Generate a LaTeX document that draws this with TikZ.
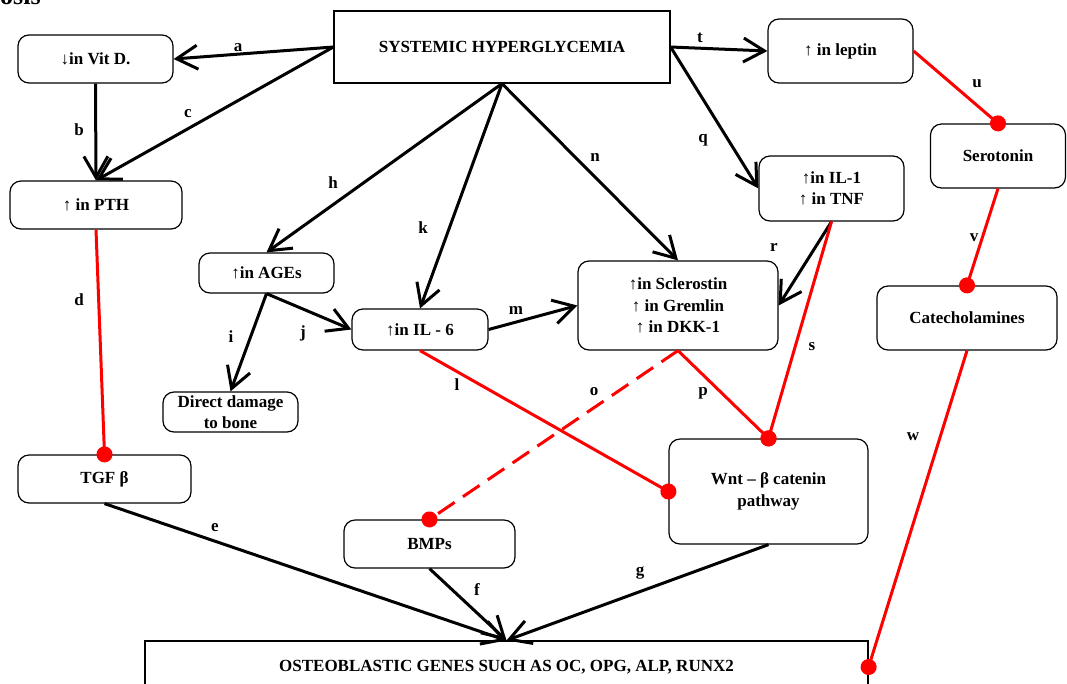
\documentclass[tikz,border=0pt]{standalone}
\usepackage{fontspec}
\setmainfont{Liberation Serif}
\usetikzlibrary{arrows.meta}

\newcommand{\diagfont}{\fontsize{17}{21.5}\selectfont\bfseries}

\tikzset{
  cell/.style={draw, line width=1.2pt, rounded corners=11pt, align=center, inner sep=0pt, font=\diagfont},
  flat/.style={draw, line width=1.2pt, align=center, inner sep=0pt, font=\diagfont},
  dims/.style 2 args={minimum width=#1pt, minimum height=#2pt},
  up/.style={line width=3pt, -{Straight Barb[length=21pt, width=24pt]}},
  block/.style={red, line width=3pt, shorten >=-8pt, -{Circle[length=16pt]}},
  tag/.style={font=\diagfont, inner sep=0pt},
}

\begin{document}
\begin{tikzpicture}[x=1pt, y=-1pt]
  \useasboundingbox (0,0) rectangle (1067,683);

  \node (title) [anchor=base west, inner sep=0pt, font=\bfseries\fontsize{26}{30}\selectfont] at (0,4) {osis};

  \node (sys) [flat, dims={336}{72}] at (502,47) {SYSTEMIC HYPERGLYCEMIA};
  \node (vitd) [cell, dims={155}{48}] at (95.5,59) {↓in Vit D.};
  \node (pth) [cell, dims={172}{48}] at (96,205) {↑ in PTH};
  \node (leptin) [cell, dims={145}{64}] at (840.5,51) {↑ in leptin};
  \node (sero) [cell, dims={135}{64}] at (998,156) {Serotonin};
  \node (il1) [cell, dims={145}{65}] at (831.5,188.5) {↑in IL-1\\↑ in TNF};
  \node (cat) [cell, dims={180}{64}] at (967,318) {Catecholamines};
  \node (age) [cell, dims={135}{40}] at (266.5,273) {↑in AGEs};
  \node (il6) [cell, dims={136}{41}] at (420,329.5) {↑in IL - 6};
  \node (scl) [cell, dims={200}{89}] at (678,305.5) {↑in Sclerostin\\↑ in Gremlin\\↑ in DKK-1};
  \node (dmg) [cell, dims={135}{40}] at (230.5,412) {Direct damage\\to bone};
  \node (tgf) [cell, dims={173}{48}] at (104.5,479) {TGF β};
  \node (bmp) [cell, dims={171}{48}] at (429.5,544) {BMPs};
  \node (wnt) [cell, dims={199}{105}] at (768.5,491.5) {Wnt – β catenin\\pathway};
  \node (ost) [flat, dims={723}{52}] at (506.5,667) {OSTEOBLASTIC GENES SUCH AS OC, OPG, ALP, RUNX2};

  % edge letters
  \foreach \t/\x/\y in {a/238/48, b/79/130, c/188/114, d/79/300, e/215/528, f/477/590,
      g/640/573, h/333/183, i/231/337, j/303/333, k/423/228, l/457/385, m/516/310,
      n/595/157, o/594/392, p/703/393, q/703/140, r/774/247, s/812/347, t/700/38,
      u/977/84, v/974/238, w/913/437}
    \node (lbl-\t) [tag] at (\x,\y) {\t};

  % raising
  \draw [up] (sys.west) -- (vitd.east);
  \draw [up] (vitd.south) -- (pth.north);
  \draw [up] (sys.west) -- (pth.north);
  \draw [up] (sys.east) -- (leptin.west);
  \draw [up] (sys.east) -- (il1.west);
  \draw [up] (sys.south) -- (age.north);
  \draw [up] (sys.south) -- (il6.north);
  \draw [up] (sys.south) -- (scl.north);
  \draw [up] (age.south) -- (dmg.north);
  \draw [up] (age.south) -- (il6.west);
  \draw [up] (il6.east) -- (scl.west);
  \draw [up] (il1.south) -- (scl.east);
  \draw [up] (tgf.south) -- (ost.north);
  \draw [up] (bmp.south) -- (ost.north);
  \draw [up] (wnt.south) -- (ost.north);

  % blocking
  \draw [block] (pth.south) -- (tgf.north);
  \draw [block] (il6.south) -- (wnt.west);
  \draw [block, dash pattern=on 20pt off 10pt] (scl.south) -- (bmp.north);
  \draw [block] (scl.south) -- (wnt.north);
  \draw [block] (il1.south) -- (wnt.north);
  \draw [block] (leptin.east) -- (sero.north);
  \draw [block] (sero.south) -- (cat.north);
  \draw [block] (cat.south) -- (ost.east);

\end{tikzpicture}
\end{document}
